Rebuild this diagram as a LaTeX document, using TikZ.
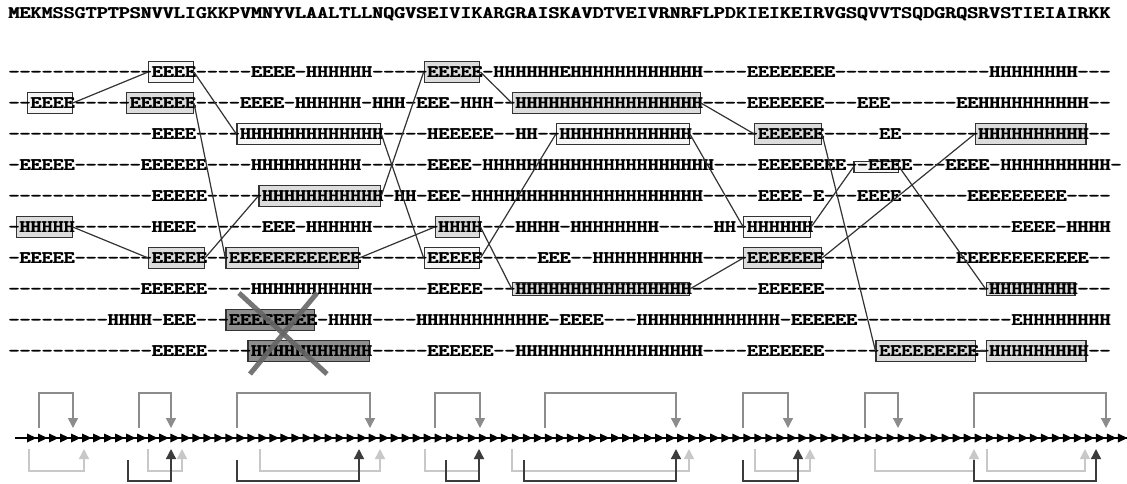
\documentclass[tikz,border=0pt]{standalone}
\usepackage{graphicx}
\usetikzlibrary{arrows.meta}
\definecolor{cW}{HTML}{F6F6F6}
\definecolor{cG}{HTML}{DCDCDC}
\definecolor{cD}{HTML}{8E8E8E}
\definecolor{cLine}{HTML}{333333}
\definecolor{cX}{HTML}{666666}
\definecolor{cUp}{HTML}{8C8C8C}
\definecolor{cLo}{HTML}{C8C8C8}
\definecolor{cDk}{HTML}{3C3C3C}
\newlength\seqcw
\newcommand\seqfont{\fontsize{17.5}{20}\selectfont\ttfamily\bfseries}
\newcommand\sdash{-\kern0pt}
\ExplSyntaxOn
\newcommand\sD[1]{\prg_replicate:nn{#1}{\sdash}}
\newcommand\sE[1]{\prg_replicate:nn{#1}{E}}
\newcommand\sH[1]{\prg_replicate:nn{#1}{H}}
\ExplSyntaxOff
\AtBeginDocument{\settowidth{\seqcw}{\seqfont E}\pgfmathsetmacro\seqxs{11.02/\seqcw}\global\let\seqxs\seqxs}
% slightly heavier strokes: the text is laid twice, shifted by a fraction of a point
\newcommand\heavy[1]{\scalebox{\seqxs}[1]{\rlap{\kern0.75pt#1}#1}}
\newcommand\RowA{\sD{13}\sE{4}\sD{5}\sE{4}\sD{1}\sH{6}\sD{5}\sE{5}\sD{1}\sH{6}\sE{1}\sH{12}\sD{4}\sE{8}\sD{14}\sH{8}\sD{3}}
\newcommand\RowB{\sD{2}\sE{4}\sD{5}\sE{6}\sD{4}\sE{4}\sD{1}\sH{6}\sD{1}\sH{3}\sD{1}\sE{3}\sD{1}\sH{3}\sD{2}\sH{17}\sD{4}\sE{7}\sD{3}\sE{3}\sD{6}\sE{2}\sH{10}\sD{2}}
\newcommand\RowC{\sD{13}\sE{4}\sD{4}\sH{13}\sD{4}\sH{1}\sE{5}\sD{2}\sH{2}\sD{2}\sH{12}\sD{6}\sE{6}\sD{5}\sE{2}\sD{7}\sH{10}\sD{2}}
\newcommand\RowD{\sD{1}\sE{5}\sD{6}\sE{6}\sD{4}\sH{10}\sD{6}\sE{4}\sD{1}\sH{21}\sD{4}\sE{8}\sD{2}\sE{4}\sD{3}\sE{4}\sD{1}\sH{10}\sD{1}}
\newcommand\RowE{\sD{13}\sE{5}\sD{5}\sH{11}\sD{1}\sH{2}\sD{1}\sE{3}\sD{1}\sH{21}\sD{5}\sE{4}\sD{1}\sE{1}\sD{3}\sE{4}\sD{6}\sE{9}\sD{4}}
\newcommand\RowF{\sD{1}\sH{5}\sD{7}\sH{1}\sE{3}\sD{6}\sE{3}\sD{1}\sH{6}\sD{6}\sH{4}\sD{3}\sH{4}\sD{1}\sH{8}\sD{5}\sH{2}\sD{1}\sH{6}\sD{18}\sE{4}\sD{1}\sH{4}}
\newcommand\RowG{\sD{1}\sE{5}\sD{7}\sE{5}\sD{2}\sE{12}\sD{6}\sE{5}\sD{5}\sE{3}\sD{2}\sH{10}\sD{4}\sE{7}\sD{12}\sE{12}\sD{2}}
\newcommand\RowH{\sD{12}\sE{6}\sD{4}\sH{11}\sD{5}\sE{5}\sD{3}\sH{16}\sD{6}\sE{6}\sD{15}\sH{8}\sD{3}}
\newcommand\RowI{\sD{9}\sH{4}\sD{1}\sE{3}\sD{3}\sE{8}\sD{1}\sH{4}\sD{4}\sH{11}\sE{1}\sD{1}\sE{4}\sD{3}\sH{13}\sD{1}\sE{6}\sD{14}\sE{1}\sH{8}}
\newcommand\RowJ{\sD{13}\sE{5}\sD{4}\sH{11}\sD{5}\sE{6}\sD{2}\sH{17}\sD{4}\sE{7}\sD{5}\sE{9}\sD{1}\sH{9}\sD{2}}
% name, y, first, last, style, height
\newcommand\mkbox[6]{%
  \node[#5, minimum height=#6, minimum width={11.02*(#4+1-#3)+0.5}] (#1) at ({5.75+11.02*(#3+#4+1)/2}, #2) {};}
\tikzset{
  sbox/.style={rectangle, draw=cLine, line width=1.2pt, inner sep=0pt},
  boxW/.style={sbox, fill=cW},
  boxG/.style={sbox, fill=cG},
  boxD/.style={sbox, fill=cD},
  txt/.style={inner sep=0pt, font=\seqfont, text=black, anchor=base west},
  conn/.style={draw=cLine, line width=1.2pt},
  xmark/.style={draw=cX, line width=5pt, opacity=0.9},
  upbr/.style={draw=cUp, line width=1.4pt, -{Triangle[width=10pt,length=10pt]}},
  lobr/.style={draw=cLo, line width=1.4pt, -{Triangle[width=10pt,length=10pt]}},
  dkbr/.style={draw=cDk, line width=1.4pt, -{Triangle[width=10pt,length=10pt]}},
  chain/.style={draw=black, line width=1.5pt},
  tri/.style={fill=black}
}
\begin{document}
\begin{tikzpicture}[x=1pt, y=-1pt]
\fill[white] (0,0) rectangle (1127,483);
\useasboundingbox (0,0) rectangle (1127,483);
% boxes
\mkbox{r1a}{72}{13}{16}{boxW}{21}
\mkbox{r1b}{72}{38}{42}{boxG}{21}
\mkbox{r2a}{103}{2}{5}{boxW}{21}
\mkbox{r2b}{103}{11}{16}{boxG}{21}
\mkbox{r2c}{103}{46}{62}{boxG}{21}
\mkbox{r3a}{134}{21}{33}{boxW}{21}
\mkbox{r3b}{134}{50}{61}{boxW}{21}
\mkbox{r3c}{134}{68}{73}{boxG}{21}
\mkbox{r3d}{134}{88}{97}{boxG}{21}
\mkbox{r4a}{167}{77}{80}{boxW}{10.5}
\mkbox{r5a}{196}{23}{33}{boxG}{21}
\mkbox{r6a}{227}{1}{5}{boxG}{21}
\mkbox{r6b}{227}{39}{42}{boxG}{21}
\mkbox{r6c}{227}{67}{72}{boxW}{21}
\mkbox{r7a}{258}{13}{17}{boxG}{21}
\mkbox{r7b}{258}{20}{31}{boxG}{21}
\mkbox{r7c}{258}{38}{42}{boxW}{21}
\mkbox{r7d}{258}{67}{73}{boxG}{21}
\mkbox{r8a}{289}{46}{61}{boxG}{12.5}
\mkbox{r8b}{289}{89}{96}{boxG}{12.5}
\mkbox{r9a}{320}{20}{27}{boxD}{21}
\mkbox{r10a}{351}{22}{32}{boxD}{21}
\mkbox{r10b}{351}{79}{87}{boxG}{21}
\mkbox{r10c}{351}{89}{97}{boxG}{21}
% texts
\node[txt] (seq) at (8,18.3) {\heavy{MEKMSSGTPTPSNVVLIGKKPVMNYVLAALTLLNQGVSEIVIKARGRAISKAVDTVEIVRNRFLPDKIEIKEIRVGSQVVTSQDGRQSRVSTIEIAIRKK}};
\node[txt] (t1) at (8,77.3) {\heavy{\RowA}};
\node[txt] (t2) at (8,108.3) {\heavy{\RowB}};
\node[txt] (t3) at (8,139.3) {\heavy{\RowC}};
\node[txt] (t4) at (8,170.3) {\heavy{\RowD}};
\node[txt] (t5) at (8,201.3) {\heavy{\RowE}};
\node[txt] (t6) at (8,232.3) {\heavy{\RowF}};
\node[txt] (t7) at (8,263.3) {\heavy{\RowG}};
\node[txt] (t8) at (8,294.3) {\heavy{\RowH}};
\node[txt] (t9) at (8,325.3) {\heavy{\RowI}};
\node[txt] (t10) at (8,356.3) {\heavy{\RowJ}};
% connectors
\draw[conn] (r2a.east) -- (r1a.west);
\draw[conn] (r1a.east) -- (r3a.west);
\draw[conn] (r3a.east) -- (r7c.west);
\draw[conn] (r7c.east) -- (r3b.west);
\draw[conn] (r3b.east) -- (r6c.west);
\draw[conn] (r6c.east) -- (r4a.west);
\draw[conn] (r4a.east) -- (r8b.west);
\draw[conn] (r2b.east) -- (r7b.west);
\draw[conn] (r7b.east) -- (r6b.west);
\draw[conn] (r6b.east) -- (r8a.west);
\draw[conn] (r8a.east) -- (r7d.west);
\draw[conn] (r7d.east) -- (r3d.west);
\draw[conn] (r6a.east) -- (r7a.west);
\draw[conn] (r7a.east) -- (r5a.west);
\draw[conn] (r5a.east) -- (r1b.west);
\draw[conn] (r1b.east) -- (r2c.west);
\draw[conn] (r2c.east) -- (r3c.west);
\draw[conn] (r3c.east) -- (r10b.west);
\draw[conn] (r10b.east) -- (r10c.west);
% cross
\draw[xmark] (239,293) -- (327,374);
\draw[xmark] (317,293) -- (250,374);
% chain
\draw[chain] (15,438) -- (1127,438);
\foreach \i in {0,...,99} \fill[tri] ({27+11.02*\i},433.5) -- ++(9.5,4.5) -- ++(-9.5,4.5) -- cycle;
% lower brackets
\foreach \l/\r in {29/84,148/182,260/380,425/479,512/689,755/810,875/974,987/1085}
  \draw[lobr] (\l,449) -- (\l,471) -- (\r,471) -- (\r,449);
\foreach \l/\r in {128/171,237/359,446/479,524/676,743/798,974/1096}
  \draw[dkbr] (\l,460) -- (\l,481) -- (\r,481) -- (\r,449);
% upper brackets
\foreach \l/\r in {39/73,139/171,237/370,435/480,545/676,743/788,865/898,974/1106}
  \draw[upbr] (\l,428) -- (\l,393) -- (\r,393) -- (\r,428);
\end{tikzpicture}
\end{document}
